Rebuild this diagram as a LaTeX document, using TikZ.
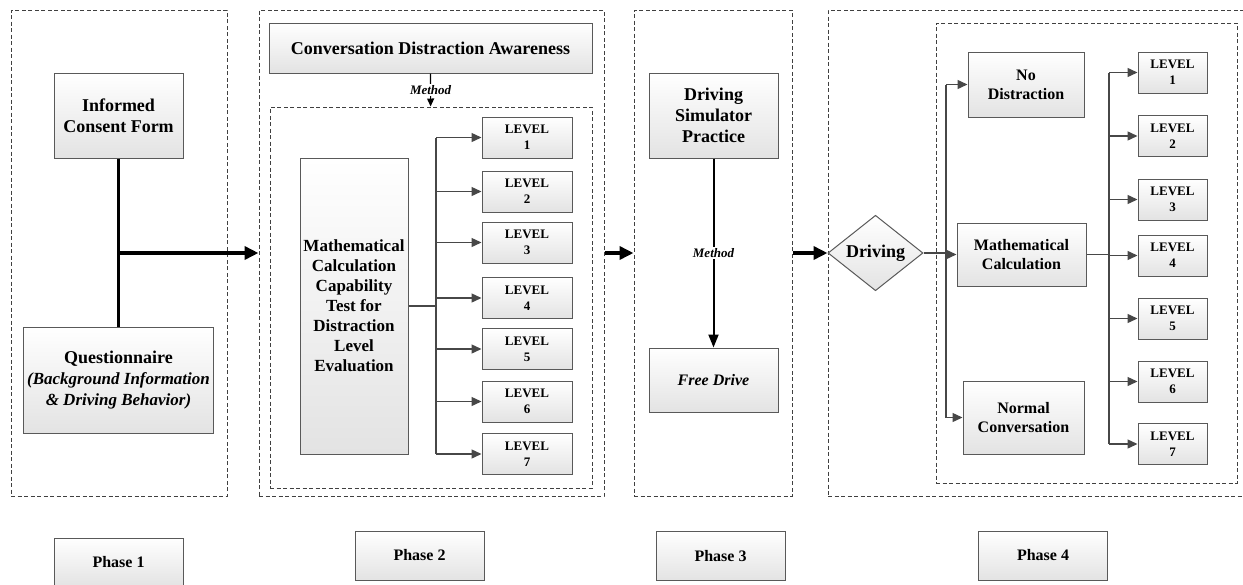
\documentclass[tikz,border=0pt]{standalone}
\usepackage{fontspec}
\setmainfont{Liberation Serif}
\usetikzlibrary{shapes.geometric}
\usetikzlibrary{arrows.meta}

\begin{document}
\begin{tikzpicture}[x=1pt, y=-1pt,
  frame/.style={draw=black!75, line width=1pt, dash pattern=on 4pt off 2.5pt, inner sep=0pt},
  box/.style={draw=black!65, line width=1pt, top color=white, bottom color=black!11, align=center, inner sep=0pt, font=\bfseries\fontsize{18}{21}\selectfont},
  lvl/.style={box, minimum height=41pt, font=\bfseries\fontsize{13}{16}\selectfont},
  phase/.style={box, minimum width=129pt, minimum height=49pt, font=\bfseries\fontsize{16}{19}\selectfont},
  bigarrow/.style={line width=3.5pt, -{Triangle[length=14pt,width=13pt]}},
  branch/.style={draw=black!72, line width=1.4pt},
  brancharrow/.style={branch, -{Triangle[length=10pt,width=9pt]}},
  methodlabel/.style={fill=white, inner sep=1pt, font=\bfseries\itshape\fontsize{13}{15}\selectfont}]
  \useasboundingbox (0,0) rectangle (1243,584);
  \clip (0,0) rectangle (1243,584);

  % Draw the phase frames
  \node[frame, minimum width=216pt, minimum height=486pt] (f1) at (119,253) {};
  \node[frame, minimum width=345pt, minimum height=486pt] (f2) at (431.5,253) {};
  \node[frame, minimum width=322pt, minimum height=381pt] (f2in) at (431,297.5) {};
  \node[frame, minimum width=158pt, minimum height=486pt] (f3) at (713,253) {};
  \node[frame, minimum width=420pt, minimum height=486pt] (f4) at (1038,253) {};
  \node[frame, minimum width=301pt, minimum height=460pt] (f4in) at (1086.5,253) {};

  % Phase 1
  \node[box, minimum width=129pt, minimum height=85pt] (consent) at (118.5,115.5) {Informed\\Consent Form};
  \node[box, minimum width=190pt, minimum height=106pt] (quest) at (118.5,380)
    {Questionnaire\\{\fontsize{17}{20}\selectfont\textit{(Background Information}}\\{\fontsize{17}{20}\selectfont\textit{\& Driving Behavior)}}};
  \draw[line width=3.5pt] (consent.south) -- (quest.north);
  \draw[bigarrow] (consent.south |- f2.west) -- (f2.west);

  % Phase 2
  \node[box, minimum width=323pt, minimum height=50pt] (aware) at (430.5,48) {Conversation Distraction Awareness};
  \draw[line width=1.2pt, -{Triangle[length=8pt,width=7pt]}] (aware) -- node[methodlabel] {Method} (f2in);
  \node[box, minimum width=108pt, minimum height=296pt, font=\bfseries\fontsize{17}{20}\selectfont] (mtest) at (354,306)
    {Mathematical\\Calculation\\Capability\\Test for\\Distraction\\Level\\Evaluation};
  \foreach \i/\y in {1/137.5, 2/191.5, 3/242.5, 4/298, 5/349, 6/401.5, 7/454}
    \node[lvl, minimum width=90pt] (a\i) at (527,\y) {LEVEL\\\i};
  \coordinate (j2) at (436,0);
  \draw[branch] (mtest.east) -- (mtest.east -| j2);
  \draw[branch] (j2 |- a1.west) -- (j2 |- a7.west);
  \foreach \i in {1,...,7}
    \draw[brancharrow] (j2 |- a\i.west) -- (a\i.west);
  \draw[bigarrow] (f2.east) -- (f3.west);

  % Phase 3
  \node[box, minimum width=129pt, minimum height=85pt] (sim) at (713.5,115.5) {Driving\\Simulator\\Practice};
  \node[box, minimum width=129pt, minimum height=64pt, font=\bfseries\itshape\fontsize{16}{19}\selectfont] (free) at (713.5,380) {Free Drive};
  \draw[line width=2pt, -{Triangle[length=13pt,width=10pt]}] (sim) -- node[methodlabel] {Method} (free);

  % Phase 4
  \node[box, shape=diamond, minimum width=95pt, minimum height=64pt] (drive) at (875.5,253) {Driving};
  \draw[bigarrow] (f3.east) -- (drive.west);
  \node[box, minimum width=116pt, minimum height=65pt, font=\bfseries\fontsize{16}{19}\selectfont] (nodist) at (1026,84.5) {No\\Distraction};
  \node[box, minimum width=129pt, minimum height=63pt, font=\bfseries\fontsize{16}{19}\selectfont] (mcalc) at (1021.5,254.5) {Mathematical\\Calculation};
  \node[box, minimum width=121pt, minimum height=73pt, font=\bfseries\fontsize{16}{19}\selectfont] (normal) at (1023.5,417.5) {Normal\\Conversation};
  \coordinate (j3) at (946,0);
  \draw[branch] (drive.east) -- (drive.east -| j3);
  \draw[branch] (j3 |- nodist.west) -- (j3 |- normal.west);
  \foreach \n in {nodist, mcalc, normal}
    \draw[brancharrow] (j3 |- \n.west) -- (\n.west);
  \foreach \i/\y in {1/72.5, 2/136, 3/199.5, 4/255.5, 5/318.5, 6/381.5, 7/444}
    \node[lvl, minimum width=69pt] (b\i) at (1172.5,\y) {LEVEL\\\i};
  \coordinate (j4) at (1109,0);
  \draw[branch] (mcalc.east) -- (mcalc.east -| j4);
  \draw[branch] (j4 |- b1.west) -- (j4 |- b7.west);
  \foreach \i in {1,...,7}
    \draw[brancharrow] (j4 |- b\i.west) -- (b\i.west);

  % Draw the phase labels
  \node[phase] (p1) at (118.5,562.5) {Phase 1};
  \node[phase] (p2) at (419.5,555.5) {Phase 2};
  \node[phase] (p3) at (720.5,556) {Phase 3};
  \node[phase] (p4) at (1043,555.5) {Phase 4};
\end{tikzpicture}
\end{document}
